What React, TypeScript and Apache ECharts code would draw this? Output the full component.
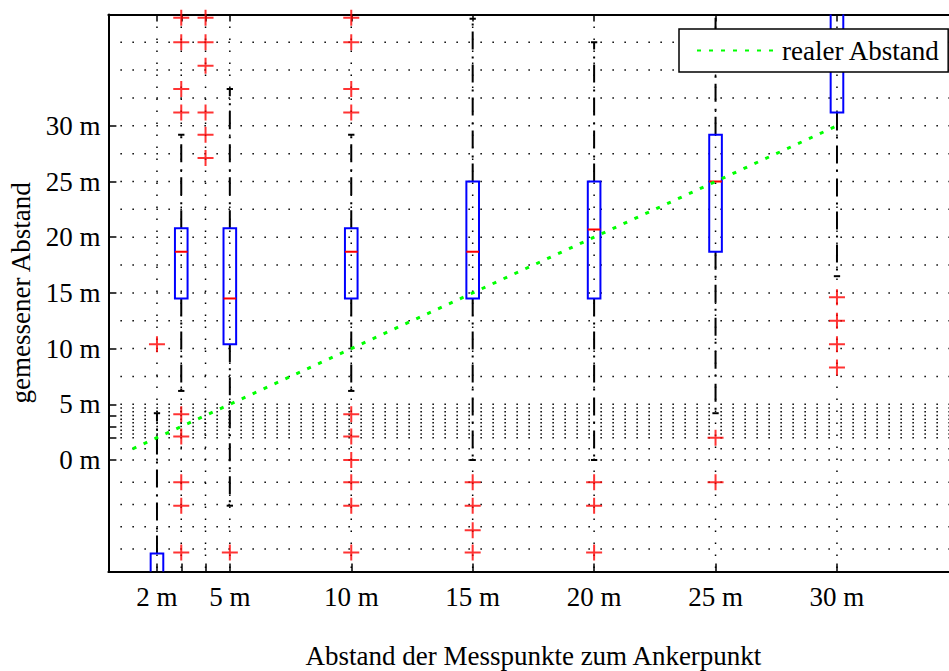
import React, { useEffect, useRef } from "react";
import * as echarts from "echarts";

// Measurement positions (m) and the box statistics for each of them
const positions = [2, 3, 4, 5, 10, 15, 20, 25, 30];
const lowerWhisker = [-14, 6.2, 43, -4.1, 6.2, 0, 0, 4.2, 16.5];
const quartile1 = [-12, 14.5, 45, 10.4, 14.5, 14.5, 14.5, 18.7, 31.2];
const medians = [-11, 18.7, 47, 14.5, 18.7, 18.7, 20.7, 25.0, 42];
const quartile3 = [-8.4, 20.8, 49, 20.8, 20.8, 25.0, 25.0, 29.2, 44];
const upperWhisker = [4.2, 29.2, 52, 33.3, 29.2, 39.6, 37.5, 42, 47];

// Outliers per position
const outlierX = [
  2,
  3, 3, 3, 3, 3, 3, 3, 3, 3,
  4, 4, 4, 4, 4, 4,
  5,
  10, 10, 10, 10, 10, 10, 10, 10, 10, 10,
  15, 15, 15, 15,
  20, 20, 20,
  25, 25,
  30, 30, 30, 30,
];
const outlierY = [
  10.4,
  39.7, 37.5, 33.3, 31.2, 4.1, 2.1, -2.0, -4.1, -8.3,
  39.7, 37.5, 35.4, 31.2, 29.2, 27.1,
  -8.3,
  39.7, 37.5, 33.3, 31.2, 4.1, 2.1, 0, -2.0, -4.1, -8.3,
  -2.0, -4.1, -6.3, -8.3,
  -2.0, -4.1, -8.3,
  2.0, -2.0,
  14.6, 12.5, 10.4, 8.3,
];

// Reference line: real distance
const realX = [1, 2, 3, 4, 5, 10, 15, 20, 25, 30];
const realY = [1, 2, 3, 4, 5, 10, 15, 20, 25, 30];

// Axis ticks and grid lines
const xTickValues = [2, 3, 4, 5, 10, 15, 20, 25, 30];
const xLabelValues = [2, 5, 10, 15, 20, 25, 30];
const yTickValues = [0, 2, 3, 4, 5, 10, 15, 20, 25, 30];
const yLabelValues = [0, 5, 10, 15, 20, 25, 30];
const yGridValues = [
  -8, -6, -4, -2, 0, 1, 2, 2.333, 2.667, 3, 3.333, 3.667, 4, 4.333, 4.667, 5,
  7.5, 10, 12.5, 15, 17.5, 20, 22.5, 25, 27.5, 30, 32.5, 35, 37.5,
];
const xGridValues = [2, 3, 4, 5, 10, 15, 20, 25, 30];

const X_MIN = 0;
const X_MAX = 35;
const Y_MIN = -10;
const Y_MAX = 40;

const FONT = "'Liberation Serif', 'Times New Roman', serif";
const FONT_SIZE = 27;
const DOTS = [1.5, 10.5];

export default function App() {
  const ref = useRef<HTMLDivElement>(null);

  useEffect(() => {
    if (!ref.current) return;
    const chart = echarts.init(ref.current, null, { renderer: "svg" });

    const boxData = positions.map((p, i) => [
      p,
      lowerWhisker[i],
      quartile1[i],
      medians[i],
      quartile3[i],
      upperWhisker[i],
    ]);

    const axisCommon = {
      type: "value" as const,
      axisLine: { show: true, onZero: false, lineStyle: { color: "#000", width: 2 } },
      splitLine: { show: false },
    };

    const option: any = {
      animation: false,
      backgroundColor: "#fff",
      grid: {
        left: 108.4,
        top: 14.4,
        width: 850,
        height: 557,
        show: false,
        outerBoundsMode: "none",
        containLabel: false,
      },
      legend: {
        data: ["realer Abstand"],
        left: 679,
        top: 29,
        backgroundColor: "#fff",
        borderColor: "#000",
        borderWidth: 1.5,
        borderRadius: 0,
        padding: [8, 8, 8, 17],
        itemWidth: 80,
        itemHeight: 2,
        itemGap: 0,
        selectedMode: false,
        itemStyle: { opacity: 0 },
        textStyle: { fontFamily: FONT, fontSize: FONT_SIZE, color: "#000" },
      },
      xAxis: [
        {
          ...axisCommon,
          min: X_MIN,
          max: X_MAX,
          position: "bottom",
          axisTick: {
            show: true,
            inside: true,
            length: 8,
            customValues: xTickValues,
            lineStyle: { color: "#000", width: 1.5 },
          },
          axisLabel: {
            customValues: xLabelValues,
            formatter: "{value} m",
            fontFamily: FONT,
            fontSize: FONT_SIZE,
            color: "#000",
            margin: 12,
          },
          name: "Abstand der Messpunkte zum Ankerpunkt",
          nameLocation: "middle",
          nameGap: 71,
          nameTextStyle: { fontFamily: FONT, fontSize: FONT_SIZE, color: "#000" },
        },
        {
          ...axisCommon,
          min: X_MIN,
          max: X_MAX,
          position: "top",
          axisTick: {
            show: true,
            inside: true,
            length: 7,
            customValues: xTickValues,
            lineStyle: { color: "#000", width: 1.5 },
          },
          axisLabel: { show: false },
        },
      ],
      yAxis: [
        {
          ...axisCommon,
          min: Y_MIN,
          max: Y_MAX,
          position: "left",
          axisTick: {
            show: true,
            inside: true,
            length: 8,
            customValues: yTickValues,
            lineStyle: { color: "#000", width: 1.5 },
          },
          axisLabel: {
            customValues: yLabelValues,
            formatter: "{value} m",
            fontFamily: FONT,
            fontSize: FONT_SIZE,
            color: "#000",
            margin: 8,
          },
          name: "gemessener Abstand",
          nameLocation: "middle",
          nameGap: 74,
          nameTextStyle: { fontFamily: FONT, fontSize: FONT_SIZE, color: "#000" },
        },
        {
          ...axisCommon,
          min: Y_MIN,
          max: Y_MAX,
          position: "right",
          axisTick: {
            show: true,
            inside: true,
            length: 8,
            customValues: yTickValues,
            lineStyle: { color: "#000", width: 1.5 },
          },
          axisLabel: { show: false },
        },
      ],
      series: [
        {
          // dotted horizontal grid lines
          type: "custom",
          silent: true,
          z: 1,
          clip: true,
          data: yGridValues.map((v) => [X_MIN, v]),
          renderItem: (_p: any, api: any) => {
            const v = api.value(1);
            const a = api.coord([X_MIN, v]);
            const b = api.coord([X_MAX, v]);
            return {
              type: "line",
              shape: { x1: a[0], y1: a[1], x2: b[0], y2: b[1] },
              style: { stroke: "#000", lineWidth: 1.5, lineDash: DOTS },
            };
          },
        },
        {
          // dotted vertical grid lines
          type: "custom",
          silent: true,
          z: 1,
          clip: true,
          data: xGridValues.map((v) => [v, Y_MIN]),
          renderItem: (_p: any, api: any) => {
            const v = api.value(0);
            const a = api.coord([v, Y_MAX]);
            const b = api.coord([v, Y_MIN]);
            return {
              type: "line",
              shape: { x1: a[0], y1: a[1], x2: b[0], y2: b[1] },
              style: { stroke: "#000", lineWidth: 1.5, lineDash: DOTS },
            };
          },
        },
        {
          // box plots: whiskers, caps, boxes, medians
          type: "custom",
          z: 3,
          clip: true,
          data: boxData,
          renderItem: (_p: any, api: any) => {
            const x = api.value(0);
            const lo = api.coord([x, api.value(1)]);
            const q1 = api.coord([x, api.value(2)]);
            const med = api.coord([x, api.value(3)]);
            const q3 = api.coord([x, api.value(4)]);
            const hi = api.coord([x, api.value(5)]);
            const w = api.size([0.52, 0])[0];
            const cx = lo[0];
            const whisker = { stroke: "#000", lineWidth: 2, lineDash: [18, 6, 2, 7] };
            const cap = { stroke: "#000", lineWidth: 2 };
            return {
              type: "group",
              children: [
                {
                  type: "line",
                  shape: { x1: cx, y1: q3[1], x2: cx, y2: hi[1] },
                  style: whisker,
                },
                {
                  type: "line",
                  shape: { x1: cx, y1: q1[1], x2: cx, y2: lo[1] },
                  style: whisker,
                },
                {
                  type: "line",
                  shape: { x1: cx - w / 4, y1: hi[1], x2: cx + w / 4, y2: hi[1] },
                  style: cap,
                },
                {
                  type: "line",
                  shape: { x1: cx - w / 4, y1: lo[1], x2: cx + w / 4, y2: lo[1] },
                  style: cap,
                },
                {
                  type: "rect",
                  shape: { x: cx - w / 2, y: q3[1], width: w, height: q1[1] - q3[1] },
                  style: { fill: "none", stroke: "#0000ff", lineWidth: 2 },
                },
                {
                  type: "line",
                  shape: { x1: cx - w / 2, y1: med[1], x2: cx + w / 2, y2: med[1] },
                  style: { stroke: "#ff0000", lineWidth: 2 },
                },
              ],
            };
          },
        },
        {
          name: "Ausreißer",
          type: "scatter",
          z: 4,
          clip: true,
          symbol: "path://M7,0H9V7H16V9H9V16H7V9H0V7H7Z",
          symbolSize: 16,
          itemStyle: { color: "#ff0000" },
          data: outlierX.map((x, i) => [x, outlierY[i]]),
        },
        {
          name: "realer Abstand",
          type: "line",
          z: 5,
          symbol: "none",
          lineStyle: { color: "#00ff00", width: 3, type: [4, 8] },
          itemStyle: { color: "#00ff00" },
          data: realX.map((x, i) => [x, realY[i]]),
        },
      ],
    };

    chart.setOption(option);
    return () => chart.dispose();
  }, []);

  return (
    <div
      ref={ref}
      style={{ position: "fixed", left: 0, top: 0, width: 949, height: 671, background: "#fff" }}
    />
  );
}
